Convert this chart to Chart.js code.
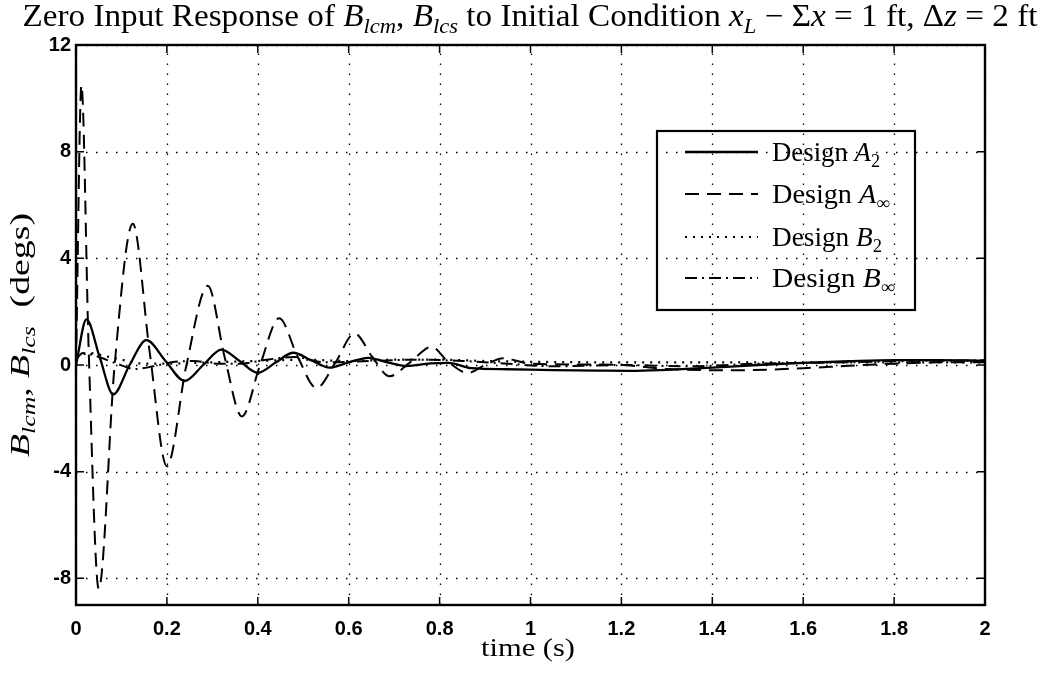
<!DOCTYPE html>
<html><head><meta charset="utf-8">
<script src="https://cdn.jsdelivr.net/npm/chart.js@4/dist/chart.umd.min.js"></script>
<style>html,body{margin:0;padding:0;background:#fff;}#wrap{position:relative;width:1047px;height:673px;}</style>
</head><body><div id="wrap"><canvas id="c" width="1047" height="673"></canvas></div>
<script>
// ---- data ----
const tA2 = [0,0.023,0.052,0.082,0.118,0.155,0.197,0.239,0.28,0.32,0.36,0.40,0.44,0.478,0.518,0.558,0.6,0.643,0.685,0.727,0.78,0.82,0.87,0.95,1.05,1.15,1.22,1.3,1.4,1.5,1.6,1.7,1.8,1.9,2.0];
const yA2 = [0,1.71,0.3,-1.1,0,0.93,0.15,-0.6,0,0.58,0.15,-0.29,0.1,0.46,0.17,-0.1,0.1,0.27,0.1,-0.04,0.06,0.08,-0.12,-0.16,-0.19,-0.21,-0.22,-0.18,-0.1,0,0.08,0.14,0.18,0.18,0.16];
const tAinf = [0,0.012,0.028,0.05,0.085,0.125,0.162,0.2,0.243,0.29,0.327,0.365,0.405,0.447,0.488,0.529,0.571,0.613,0.652,0.69,0.735,0.782,0.82,0.862,0.9,0.94,1.0,1.1,1.2,1.3,1.45,1.6,1.7,1.8,1.9,2.0];
const yAinf = [0,10.5,0.5,-8.4,0,5.3,0.5,-3.8,0,2.97,0.3,-1.93,0,1.75,0.3,-0.86,0.1,1.18,0.3,-0.42,0.1,0.68,0.1,-0.3,0,0.25,0.05,0.02,0,-0.15,-0.2,-0.12,-0.03,0.05,0.1,0.1];
const tB2 = [0,0.03,0.06,0.1,0.15,0.2,0.3,0.4,0.5,0.6,0.7,0.8,0.9,1.0,1.2,1.4,1.6,1.8,2.0];
const yB2 = [0.3,0.45,0.35,0.2,0.05,0.05,0.1,0.15,0.2,0.15,0.2,0.2,0.15,0.12,0.1,0.1,0.1,0.1,0.1];
const tBinf = [0,0.015,0.05,0.09,0.13,0.17,0.21,0.26,0.31,0.36,0.42,0.48,0.55,0.65,0.75,0.85,0.95,1.05,1.2,1.35,1.5,1.7,1.85,2.0];
const yBinf = [0.2,0.45,0.3,0.05,-0.15,-0.05,0.1,0.15,0.05,0.05,0.2,0.3,0.1,0.15,0.2,0.15,0.05,-0.05,0,-0.05,0.05,0.1,0.15,0.18];
const xTickValues = [0,0.2,0.4,0.6,0.8,1,1.2,1.4,1.6,1.8,2];
const xTickLabels = ['0','0.2','0.4','0.6','0.8','1','1.2','1.4','1.6','1.8','2'];
const yTickValues = [-8,-4,0,4,8,12];
const yTickLabels = ['-8','-4','0','4','8','12'];
const titleRuns = [{t:'Zero Input Response of '},{t:'B',i:1},{t:'lcm',i:1,sub:1},{t:', '},{t:'B',i:1},{t:'lcs',i:1,sub:1},{t:' to Initial Condition '},{t:'x',i:1},{t:'L',i:1,sub:1},{t:' \u2212 \u03A3'},{t:'x',i:1},{t:' = 1 ft, \u0394'},{t:'z',i:1},{t:' = 2 ft'}];
const yLabelRuns = [{t:'B',i:1},{t:'lcm',i:1,sub:1},{t:', '},{t:'B',i:1},{t:'lcs',i:1,sub:1},{t:'  (degs)'}];
const xLabelRuns = [{t:'time (s)'}];
const legendRuns = [
  [{t:'Design '},{t:'A',i:1},{t:'2',sub:1}],
  [{t:'Design '},{t:'A',i:1},{t:'\u221E',sub:1}],
  [{t:'Design '},{t:'B',i:1},{t:'2',sub:1}],
  [{t:'Design '},{t:'B',i:1},{t:'\u221E',sub:1}]
];

const pts = (t, y) => t.map((v, k) => ({x: v, y: y[k]}));

function runFont(r, size){ const s = r.sub ? size*0.68 : size; return (r.i ? 'italic ' : '') + s.toFixed(1) + 'px "Liberation Serif", serif'; }
function drawRuns(ctx, runs, size, x, y, align, targetW){
  let w = 0;
  for (const r of runs){ ctx.font = runFont(r, size); w += ctx.measureText(r.t).width; }
  const sx = targetW ? targetW / w : 1;
  const total = w * sx;
  const start = align === 'center' ? x - total/2 : x;
  ctx.save(); ctx.translate(start, y); ctx.scale(sx, 1);
  ctx.textBaseline = 'alphabetic'; ctx.textAlign = 'left'; ctx.fillStyle = '#000';
  let cx = 0;
  for (const r of runs){ ctx.font = runFont(r, size); ctx.fillText(r.t, cx, r.sub ? size*0.22 : 0); cx += ctx.measureText(r.t).width; }
  ctx.restore();
}

const decor = {
  id: 'decor',
  beforeDatasetsDraw(chart){
    const {ctx, chartArea: a, scales: {x, y}} = chart;
    ctx.save(); ctx.strokeStyle = '#000'; ctx.lineWidth = 1.3; ctx.setLineDash([1.5, 8.5]);
    xTickValues.forEach(v => { const px = Math.round(x.getPixelForValue(v)) + 0.5; ctx.beginPath(); ctx.moveTo(px, a.bottom); ctx.lineTo(px, a.top); ctx.stroke(); });
    yTickValues.forEach(v => { const py = Math.round(y.getPixelForValue(v)) + 0.5; ctx.beginPath(); ctx.moveTo(a.left, py); ctx.lineTo(a.right, py); ctx.stroke(); });
    ctx.restore();
  },
  afterDatasetsDraw(chart){
    const {ctx, chartArea: a, scales: {x, y}} = chart;
    ctx.save(); ctx.strokeStyle = '#000'; ctx.setLineDash([]);
    ctx.lineWidth = 2.4; ctx.strokeRect(a.left, a.top, a.right - a.left, a.bottom - a.top);
    ctx.lineWidth = 1.5; const L = 8;
    xTickValues.forEach(v => { const px = x.getPixelForValue(v); ctx.beginPath(); ctx.moveTo(px, a.bottom); ctx.lineTo(px, a.bottom - L); ctx.moveTo(px, a.top); ctx.lineTo(px, a.top + L); ctx.stroke(); });
    yTickValues.forEach(v => { const py = y.getPixelForValue(v); ctx.beginPath(); ctx.moveTo(a.left, py); ctx.lineTo(a.left + L, py); ctx.moveTo(a.right, py); ctx.lineTo(a.right - L, py); ctx.stroke(); });
    ctx.restore();
  },
  afterDraw(chart){
    const ctx = chart.ctx;
    ctx.save();
    ctx.strokeStyle = '#000'; ctx.lineWidth = 2.2; ctx.setLineDash([]);
    ctx.strokeRect(657, 131, 258, 179);
    const rows = [152, 194, 237, 278];
    const widths = [108, 118, 110, 123];
    chart.data.datasets.forEach((ds, k) => {
      ctx.save(); ctx.strokeStyle = ds.borderColor; ctx.lineWidth = ds.borderWidth; ctx.setLineDash(ds.borderDash || []);
      ctx.beginPath(); ctx.moveTo(685, rows[k]); ctx.lineTo(758, rows[k]); ctx.stroke(); ctx.restore();
      drawRuns(ctx, legendRuns[k], 27, 772, rows[k] + 9, 'left', widths[k]);
    });
    ctx.restore();
    drawRuns(ctx, titleRuns, 31, 530, 26, 'center', 1015);
    drawRuns(ctx, xLabelRuns, 26, 528, 656, 'center', 94);
    ctx.save(); ctx.translate(20, 335); ctx.rotate(-Math.PI/2);
    drawRuns(ctx, yLabelRuns, 27, 0, 9, 'center', 244);
    ctx.restore();
  }
};

const lineDs = (label, t, y, dash, width) => ({
  label, data: pts(t, y), borderColor: '#000', borderWidth: width, borderDash: dash,
  pointRadius: 0, fill: false, cubicInterpolationMode: 'monotone'
});

new Chart(document.getElementById('c'), {
  type: 'line',
  data: { datasets: [
    lineDs('Design A2', tA2, yA2, [], 2.3),
    lineDs('Design A\u221E', tAinf, yAinf, [14, 8], 2),
    lineDs('Design B2', tB2, yB2, [2, 6], 2.2),
    lineDs('Design B\u221E', tBinf, yBinf, [12, 5, 2, 5], 2)
  ]},
  options: {
    responsive: false, animation: false, devicePixelRatio: 1,
    layout: { padding: { top: 45, right: 62, left: 0, bottom: 0 } },
    plugins: { legend: { display: false }, title: { display: false }, tooltip: { enabled: false } },
    scales: {
      x: {
        type: 'linear', min: 0, max: 2,
        afterFit: s => { s.height = 68; },
        afterBuildTicks: s => { s.ticks = xTickValues.map(v => ({value: v})); },
        ticks: { callback: (v, i) => xTickLabels[i], color: '#000', padding: 12, maxRotation: 0, autoSkip: false,
                 font: { family: '"Liberation Sans", Arial, sans-serif', weight: 'bold', size: 20 } },
        grid: { display: false, drawTicks: false }, border: { display: false }
      },
      y: {
        type: 'linear', min: -9, max: 12,
        afterFit: s => { s.width = 76; },
        afterBuildTicks: s => { s.ticks = yTickValues.map(v => ({value: v})); },
        ticks: { callback: (v, i) => yTickLabels[i], color: '#000', padding: 5, autoSkip: false,
                 font: { family: '"Liberation Sans", Arial, sans-serif', weight: 'bold', size: 20 } },
        grid: { display: false, drawTicks: false }, border: { display: false }
      }
    }
  },
  plugins: [decor]
});
</script></body></html>
